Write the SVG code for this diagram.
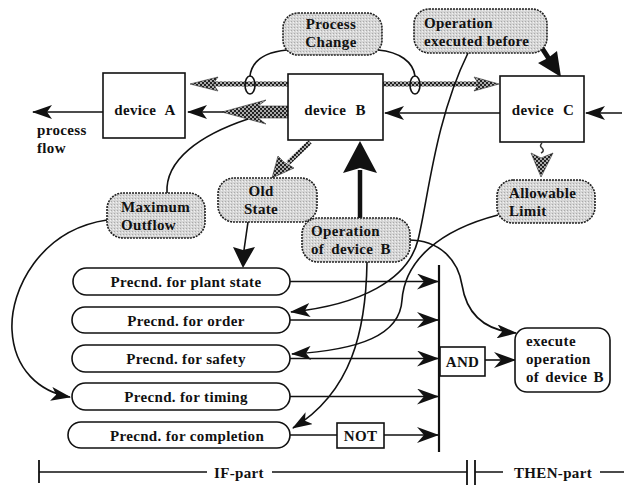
<svg xmlns="http://www.w3.org/2000/svg" width="624" height="485" viewBox="0 0 624 485">
<defs>
<style>
text{font-family:"Liberation Serif","Times New Roman",serif;font-weight:bold;font-size:15px;letter-spacing:0.35px;fill:#111}
.c{text-anchor:middle}
.box{fill:#fff;stroke:#111;stroke-width:1.6}
.gnode{fill:url(#stip);stroke:#222;stroke-width:1.6;stroke-dasharray:2 1}
.ln{fill:none;stroke:#111;stroke-width:1.6}
.hl{fill:none;stroke:url(#hatch);stroke-width:5}
.hf{fill:url(#hatch);stroke:#333;stroke-width:0.6}
</style>
<pattern id="hatch" width="4" height="4" patternUnits="userSpaceOnUse">
<rect width="4" height="4" fill="#aaa"/>
<rect width="2" height="2" fill="#222"/>
<rect x="2" y="2" width="2" height="2" fill="#222"/>
</pattern>
<pattern id="stip" width="3" height="3" patternUnits="userSpaceOnUse">
<rect width="3" height="3" fill="#d6d6d6"/>
<rect width="1" height="1" fill="#aaa"/>
<rect x="2" y="1" width="1" height="1" fill="#f2f2f2"/>
</pattern>
<marker id="ah" viewBox="0 0 20 14" refX="19" refY="7" markerWidth="20" markerHeight="14" markerUnits="userSpaceOnUse" orient="auto">
<path d="M0,0 L20,7 L0,14 L5,7 Z" fill="#111"/>
</marker>
<marker id="barb" viewBox="0 0 22 16" refX="21" refY="8" markerWidth="22" markerHeight="16" markerUnits="userSpaceOnUse" orient="auto">
<path d="M0,0 L22,8 L0,16 L7,8 Z" fill="#111"/>
</marker>
</defs>
<rect width="624" height="485" fill="#fff"/>

<g id="connectors">
<path class="hl" d="M288,84 H200"/>
<path class="hf" d="M190,84 L218,77 L213,84 L218,91 Z"/>
<path class="hl" d="M383,84 H480"/>
<path class="hf" d="M499,84 L474,77 L479,84 L474,91 Z"/>
<ellipse cx="250" cy="85" rx="5" ry="9" fill="none" stroke="#111" stroke-width="1.6"/>
<ellipse cx="415" cy="85" rx="5" ry="9" fill="none" stroke="#111" stroke-width="1.6"/>
<path class="ln" d="M287,50 C266,52 252,60 250,76"/>
<path class="ln" d="M378,50 C400,52 413,62 415,76"/>
<path class="ln" d="M288,112 H188" marker-end="url(#ah)"/>
<path class="hf" d="M222,112 L266,100 L258,106 L288,106 L288,118 L258,118 L266,124 Z"/>
<path class="ln" d="M103,112 H33" marker-end="url(#ah)"/>
<path class="ln" d="M500,113 H385" marker-end="url(#ah)"/>
<path class="ln" d="M622,113 H586" marker-end="url(#ah)"/>
<path d="M540,45 L551,62" stroke="#111" stroke-width="5" fill="none"/>
<path d="M561,77 L538,63 L548,58 L557,51 Z" fill="#111"/>
<path class="hl" d="M310,142 L288,163"/>
<path class="hf" d="M272,178 L278,156 L284,162 L294,168 Z"/>
<path d="M542,143 q-3,3 0,5 q3,3 -1,5" fill="none" stroke="#333" stroke-width="1.5"/>
<path class="hf" d="M541,177 L531,153 L541,158 L553,153 Z"/>
<path d="M360,218 V170" stroke="#111" stroke-width="4.5" fill="none"/>
<path d="M360,141 L377,173 L360,168 L343,173 Z" fill="#111"/>
<path d="M248,222 L244,250" class="ln"/>
<path d="M243,268 L233,247 L243,250 L255,247 Z" fill="#111"/>
<path class="ln" d="M167,193 C165,160 200,135 248,119"/>
<path class="ln" d="M107,220 C40,230 10,290 12,330 C14,370 40,392 70,397" marker-end="url(#ah)"/>
<path class="ln" d="M468,53 C435,120 428,200 418,240 C408,280 360,305 291,312" marker-end="url(#ah)"/>
<path class="ln" d="M498,215 C440,230 405,260 402,300 C400,335 360,350 292,354" marker-end="url(#ah)"/>
<path class="ln" d="M367,262 C366,330 352,392 293,428" marker-end="url(#ah)"/>
<path class="ln" d="M408,240 C440,240 458,260 462,285 C466,310 480,330 516,333" marker-end="url(#ah)"/>
<path class="ln" d="M290,281.5 H438" marker-end="url(#barb)"/>
<path class="ln" d="M290,320 H438" marker-end="url(#barb)"/>
<path class="ln" d="M290,358.5 H438" marker-end="url(#barb)"/>
<path class="ln" d="M290,396.5 H438" marker-end="url(#barb)"/>
<path class="ln" d="M290,435 H337"/>
<path class="ln" d="M384,435 H438" marker-end="url(#barb)"/>
<path d="M439,265 V452" stroke="#111" stroke-width="2.2" fill="none"/>
<path class="ln" d="M485,360 H515" marker-end="url(#barb)"/>
<path class="ln" d="M39,472 H207 M272,472 H467 M475,472 H503 M600,472 H624"/>
<path d="M39,460 V483 M467,460 V485 M475,460 V485" stroke="#111" stroke-width="1.8" fill="none"/>
</g>

<g id="deviceA"><rect class="box" x="103" y="73" width="82" height="65"/><text class="c" x="145" y="115" word-spacing="5">device A</text></g>
<g id="deviceB"><rect class="box" x="288" y="74" width="95" height="66"/><text class="c" x="335" y="115" word-spacing="5">device B</text></g>
<g id="deviceC"><rect class="box" x="500" y="76" width="84" height="66"/><text class="c" x="543" y="115" word-spacing="5">device C</text></g>
<g id="processFlow"><text x="37" y="135">process</text><text x="37" y="153">flow</text></g>

<g id="processChange"><rect class="gnode" x="283" y="13" width="99" height="42" rx="15"/><text class="c" x="331" y="29">Process</text><text class="c" x="331" y="47">Change</text></g>
<g id="opExecBefore"><rect class="gnode" x="414" y="9" width="133" height="44" rx="15"/><text x="424" y="28">Operation</text><text x="424" y="46">executed before</text></g>
<g id="maxOutflow"><rect class="gnode" x="107" y="193" width="98" height="45" rx="16"/><text x="121" y="212">Maximum</text><text x="121" y="230">Outflow</text></g>
<g id="oldState"><rect class="gnode" x="218" y="178" width="99" height="44" rx="16"/><text class="c" x="261" y="196">Old</text><text class="c" x="261" y="214">State</text></g>
<g id="opDeviceB"><rect class="gnode" x="302" y="218" width="108" height="44" rx="16"/><text x="311" y="236">Operation</text><text x="311" y="254" word-spacing="3">of device B</text></g>
<g id="allowLimit"><rect class="gnode" x="497" y="180" width="98" height="43" rx="16"/><text x="509" y="198">Allowable</text><text x="509" y="216">Limit</text></g>

<g id="pcPlant"><rect class="box" x="73" y="268" width="217" height="27" rx="13.5"/><text class="c" x="186" y="287">Precnd. for plant state</text></g>
<g id="pcOrder"><rect class="box" x="72" y="307" width="218" height="26" rx="13"/><text class="c" x="186" y="325.5">Precnd. for order</text></g>
<g id="pcSafety"><rect class="box" x="72" y="345" width="218" height="27" rx="13.5"/><text class="c" x="186" y="364">Precnd. for safety</text></g>
<g id="pcTiming"><rect class="box" x="72" y="383" width="218" height="27" rx="13.5"/><text class="c" x="186" y="402">Precnd. for timing</text></g>
<g id="pcCompletion"><rect class="box" x="68" y="422" width="222" height="26" rx="13"/><text class="c" x="187" y="440.5">Precnd. for completion</text></g>

<g id="notGate"><rect class="box" x="337" y="423" width="47" height="25"/><text class="c" x="360.5" y="441">NOT</text></g>
<g id="andGate"><rect class="box" x="440" y="347" width="45" height="29"/><text class="c" x="462.5" y="367">AND</text></g>
<g id="execute"><rect class="box" x="515" y="328" width="95" height="64" rx="12"/><text x="526" y="346">execute</text><text x="526" y="364">operation</text><text x="526" y="382" word-spacing="2">of device B</text></g>

<g id="labels"><text class="c" x="239" y="478">IF-part</text><text class="c" x="553" y="478">THEN-part</text></g>
</svg>
